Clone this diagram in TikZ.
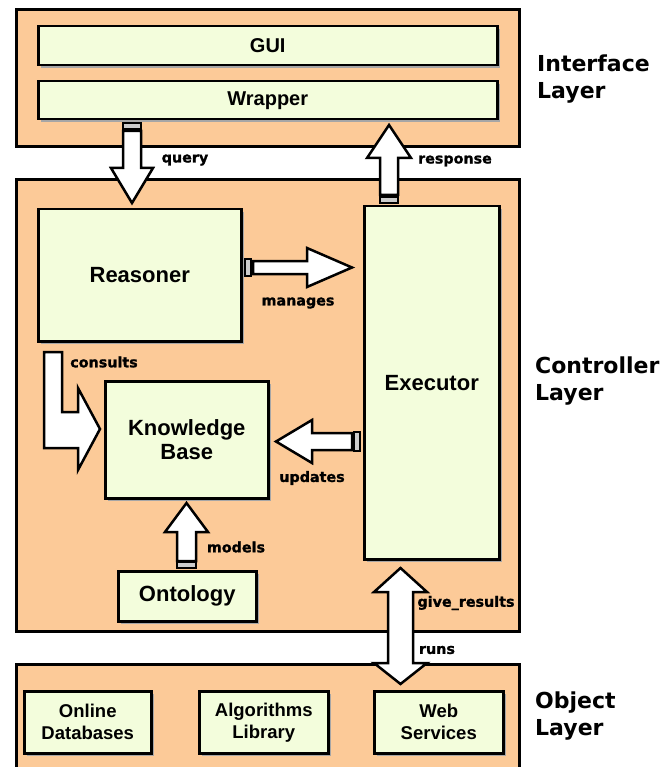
\documentclass[tikz,border=0pt]{standalone}
\usepackage{fontspec}
\setmainfont{Liberation Sans}
\newfontfamily\tagfont{DejaVu Sans}
\newfontfamily\flowfont{DejaVu Sans}[BoldFeatures={FakeBold=1.2}]
\usetikzlibrary{shadows}
\definecolor{layerfill}{RGB}{252,202,152}
\definecolor{boxfill}{RGB}{243,253,220}
\begin{document}
\begin{tikzpicture}[x=1pt,y=-1pt,
  layer/.style={draw=black, line width=3pt, fill=layerfill, anchor=north west, inner sep=0pt},
  unit/.style={draw=black, line width=2.5pt, fill=boxfill, anchor=north west, inner sep=0pt,
    align=center, font=\bfseries\fontsize{22}{24}\selectfont,
    drop shadow={shadow xshift=3pt, shadow yshift=-3pt, fill=black!35, opacity=1}},
  smallunit/.style={unit, font=\bfseries\fontsize{18.5}{22}\selectfont},
  layertag/.style={anchor=west, align=left, inner sep=0pt,
    font=\tagfont\bfseries\fontsize{22}{27}\selectfont},
  flowtag/.style={inner sep=0pt, font=\flowfont\bfseries\fontsize{14.3}{16}\selectfont},
  blockarrow/.style={draw=black, fill=white, line width=2.5pt, line join=miter},
  tab/.style={draw=black, fill=black!20, line width=1.8pt}
]
\clip (0,0) rectangle (665,767);

% ---- layers ----
\node[layer, minimum width=503pt, minimum height=137pt] (iface) at (15,8) {};
\node[layer, minimum width=503pt, minimum height=452pt] (ctrl) at (15,178) {};
\node[layer, minimum width=503pt, minimum height=115pt] (obj) at (15,663) {};

% ---- interface layer ----
\node[unit, font=\bfseries\fontsize{20}{24}\selectfont, minimum width=459pt, minimum height=39pt] (gui) at (37,25) {GUI};
\node[unit, font=\bfseries\fontsize{20}{24}\selectfont, minimum width=459pt, minimum height=38pt] (wrapper) at (37,80) {Wrapper};

% ---- controller layer ----
\node[unit, minimum width=203pt, minimum height=132pt] (reasoner) at (37,208) {Reasoner};
\node[unit, minimum width=135pt, minimum height=353pt] (executor) at (363,205) {Executor};
\node[unit, minimum width=163pt, minimum height=117pt] (kb) at (104,380) {Knowledge\\Base};
\node[unit, minimum width=138pt, minimum height=50pt] (onto) at (117,570) {Ontology};

% ---- object layer ----
\node[smallunit, minimum width=127pt, minimum height=62pt] (odb) at (23,690) {Online\\Databases};
\node[smallunit, minimum width=129pt, minimum height=62pt] (alg) at (198,690) {Algorithms\\Library};
\node[smallunit, minimum width=129pt, minimum height=62pt] (web) at (373,690) {Web\\Services};

% ---- layer names ----
\node[layertag] (ifacetag) at (537,79.5) {Interface\\Layer};
\node[layertag] (ctrltag) at (535,381.5) {Controller\\Layer};
\node[layertag] (objtag) at (535,716.5) {Object\\Layer};

% ---- block arrows ----
% query: wrapper -> reasoner
\draw[tab] (123,123) rectangle (141,129);
\draw[blockarrow] (123,131) -- (141,131) -- (141,168) -- (153,168) -- (132,203)
  -- (111,168) -- (123,168) -- cycle;
% response: executor -> wrapper
\draw[tab] (380,197) rectangle (398,203);
\draw[blockarrow] (380,195) -- (380,158) -- (367,158) -- (389,125) -- (411,158)
  -- (398,158) -- (398,195) -- cycle;
% manages: reasoner -> executor
\draw[tab] (245,259) rectangle (251,276);
\draw[blockarrow] (253,261) -- (307,261) -- (307,248) -- (352,267.5) -- (307,287)
  -- (307,274) -- (253,274) -- cycle;
% consults: reasoner -> knowledge base
\draw[blockarrow] (44,352) -- (62,352) -- (62,412) -- (78,412) -- (78,388) -- (100,429)
  -- (78,470) -- (78,448) -- (44,448) -- cycle;
% updates: executor -> knowledge base
\draw[tab] (354,432) rectangle (360,451);
\draw[blockarrow] (352,433) -- (312,433) -- (312,420) -- (276,441.5) -- (312,463)
  -- (312,450) -- (352,450) -- cycle;
% models: ontology -> knowledge base
\draw[tab] (177,562) rectangle (196,568);
\draw[blockarrow] (177,561) -- (177,532) -- (165,532) -- (186.5,503) -- (208,532)
  -- (196,532) -- (196,561) -- cycle;
% give_results / runs: executor <-> web services
\draw[blockarrow] (400.5,568) -- (427,592) -- (413,592) -- (413,663) -- (427,663)
  -- (400.5,684) -- (374,663) -- (388,663) -- (388,592) -- (374,592) -- cycle;

% ---- arrow labels ----
\node[flowtag] (qtag) at (185,160) {query};
\node[flowtag] (rtag) at (455,161) {response};
\node[flowtag] (mtag) at (298,303) {manages};
\node[flowtag] (ctag) at (104,362) {consults};
\node[flowtag] (utag) at (312,478) {updates};
\node[flowtag] (motag) at (236,547) {models};
\node[flowtag] (gtag) at (466,603) {give\_results};
\node[flowtag] (runtag) at (437,650) {runs};
\end{tikzpicture}
\end{document}
